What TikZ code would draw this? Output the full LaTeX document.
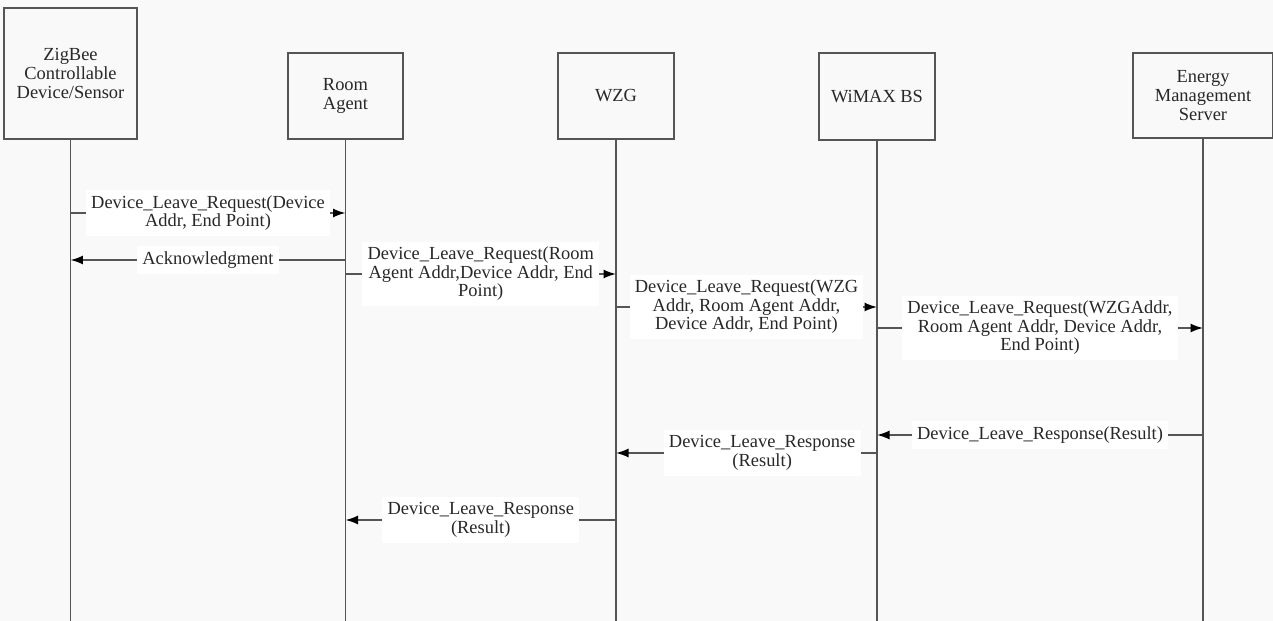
\documentclass[tikz,border=0pt]{standalone}
\usepackage{fontspec}
\newfontfamily\tmsfont{Liberation Serif}
\usetikzlibrary{arrows.meta}

\definecolor{bgc}{RGB}{249,249,249}
\definecolor{linec}{RGB}{85,85,85}
\definecolor{txtc}{RGB}{40,40,40}

\begin{document}
\begin{tikzpicture}[x=0.02cm, y=-0.02cm,
  box/.style={draw=linec, line width=1.1pt, fill=bgc, text=txtc, align=center,
    font=\tmsfont\fontsize{10.5}{11}\selectfont},
  lifeline/.style={draw=linec, line width=0.9pt},
  msg/.style={draw=linec, line width=0.9pt, -{Latex[length=0.25cm,width=0.18cm,color=black]}},
  lbl/.style={fill=white, text=txtc, align=center, inner sep=3pt,
    font=\tmsfont\fontsize{10.5}{10.5}\selectfont}]
\fill[bgc] (0,0) rectangle (1273,621);
\useasboundingbox (0,0) rectangle (1273,621);
%\draw[help lines] (0,0) grid[step=100] (1273,621);

\node[box, minimum width=2.66cm, minimum height=2.62cm] (zig) at (70.5,73.5) {ZigBee\\Controllable\\Device/Sensor};
\node[box, minimum width=2.3cm, minimum height=1.72cm] (ra) at (345.5,96) {Room\\Agent};
\node[box, minimum width=2.32cm, minimum height=1.72cm] (wzg) at (616,96) {WZG};
\node[box, minimum width=2.32cm, minimum height=1.74cm] (wbs) at (877,96.5) {WiMAX BS};
\node[box, minimum width=2.8cm, minimum height=1.7cm] (ems) at (1203,95.5) {Energy\\Management\\Server};

\coordinate (bot) at (0,621);
\foreach \n in {zig,ra,wzg,wbs,ems}
  \draw[lifeline] (\n.south) -- (\n.south |- bot);

\coordinate (m1) at (0,213);
\coordinate (m2) at (0,260);
\coordinate (m3) at (0,274);
\coordinate (m4) at (0,307);
\coordinate (m5) at (0,328);
\coordinate (m6) at (0,435);
\coordinate (m7) at (0,453);
\coordinate (m8) at (0,520);

\draw[msg] (zig |- m1) -- node[lbl] {Device\_Leave\_Request(Device\\Addr, End Point)} (ra |- m1);
\draw[msg] (ra |- m2) -- node[lbl] {Acknowledgment} (zig |- m2);
\draw[msg] (ra |- m3) -- node[lbl] {Device\_Leave\_Request(Room\\Agent Addr,Device Addr, End\\Point)} (wzg |- m3);
\draw[msg] (wzg |- m4) -- node[lbl] {Device\_Leave\_Request(WZG\\Addr, Room Agent Addr,\\Device Addr, End Point)} (wbs |- m4);
\draw[msg] (wbs |- m5) -- node[lbl] {Device\_Leave\_Request(WZGAddr,\\Room Agent Addr, Device Addr,\\End Point)} (ems |- m5);
\draw[msg] (ems |- m6) -- node[lbl] {Device\_Leave\_Response(Result)} (wbs |- m6);
\draw[msg] (wbs |- m7) -- node[lbl, pos=0.44] {Device\_Leave\_Response\\(Result)} (wzg |- m7);
\draw[msg] (wzg |- m8) -- node[lbl] {Device\_Leave\_Response\\(Result)} (ra |- m8);
\end{tikzpicture}
\end{document}
